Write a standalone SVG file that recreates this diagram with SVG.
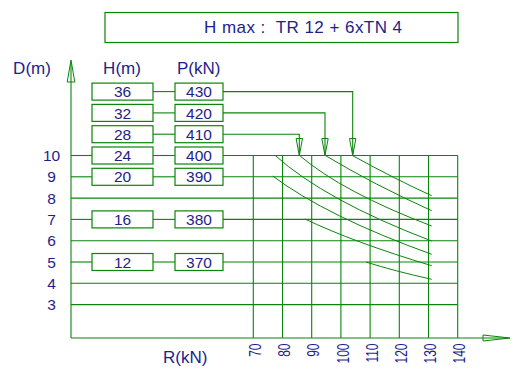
<svg xmlns="http://www.w3.org/2000/svg" width="517" height="371" viewBox="0 0 517 371">
<style>
.ln{stroke:#0a850a;stroke-width:1.1;fill:none}
.cv{stroke:#0a850a;stroke-width:1;fill:none}
.bx{stroke:#0a850a;stroke-width:1.2;fill:#fff}
.ah{stroke:#0a850a;stroke-width:1;fill:none}
.t{font-family:"Liberation Sans",Arial,sans-serif;fill:#1e1e8c}
.lb{font-size:17px}
.num{font-size:15.5px;text-anchor:middle}
.ax{font-size:16px;text-anchor:end}
</style>
<rect width="517" height="371" fill="#fff"/>

<g id="connectors">
  <!-- axes -->
  <line class="ln" x1="71" y1="62" x2="71" y2="338"/>
  <polygon class="ah" points="71,60 67.2,82 74.8,82"/>
  <line class="ln" x1="71" y1="338" x2="508" y2="338"/>
  <polygon class="ah" points="510,338 483,335 483,341"/>
  <!-- full horizontal grid lines -->
  <line class="ln" x1="71" y1="198.1" x2="457.7" y2="198.1"/>
  <line class="ln" x1="71" y1="240.7" x2="457.7" y2="240.7"/>
  <line class="ln" x1="71" y1="283.3" x2="457.7" y2="283.3"/>
  <line class="ln" x1="71" y1="304.6" x2="457.7" y2="304.6"/>
  <!-- rows with boxes -->
  <line class="ln" x1="71" y1="155.5" x2="92" y2="155.5"/>
  <line class="ln" x1="223" y1="155.5" x2="457.7" y2="155.5"/>
  <line class="ln" x1="71" y1="176.8" x2="92" y2="176.8"/>
  <line class="ln" x1="223" y1="176.8" x2="457.7" y2="176.8"/>
  <line class="ln" x1="71" y1="219.4" x2="92" y2="219.4"/>
  <line class="ln" x1="223" y1="219.4" x2="457.7" y2="219.4"/>
  <line class="ln" x1="71" y1="262" x2="92" y2="262"/>
  <line class="ln" x1="223" y1="262" x2="457.7" y2="262"/>
  <!-- box to box links -->
  <line class="ln" x1="153" y1="91.6" x2="175" y2="91.6"/>
  <line class="ln" x1="153" y1="112.9" x2="175" y2="112.9"/>
  <line class="ln" x1="153" y1="134.2" x2="175" y2="134.2"/>
  <line class="ln" x1="153" y1="155.5" x2="175" y2="155.5"/>
  <line class="ln" x1="153" y1="176.8" x2="175" y2="176.8"/>
  <line class="ln" x1="153" y1="219.4" x2="175" y2="219.4"/>
  <line class="ln" x1="153" y1="262" x2="175" y2="262"/>
  <!-- leader arrows -->
  <polyline class="ln" points="223,91.6 352.7,91.6 352.7,155"/>
  <polygon class="ah" points="352.7,155.5 349.5,138.5 355.9,138.5"/>
  <polyline class="ln" points="223,112.9 325,112.9 325,155"/>
  <polygon class="ah" points="325,155.5 321.8,138.5 328.2,138.5"/>
  <polyline class="ln" points="223,134.2 299.3,134.2 299.3,155"/>
  <polygon class="ah" points="299.3,155.5 296.1,138.5 302.5,138.5"/>
  <!-- vertical grid lines -->
  <line class="ln" x1="253.3" y1="155.5" x2="253.3" y2="338"/>
  <line class="ln" x1="282.5" y1="155.5" x2="282.5" y2="338"/>
  <line class="ln" x1="311.7" y1="155.5" x2="311.7" y2="338"/>
  <line class="ln" x1="340.9" y1="155.5" x2="340.9" y2="338"/>
  <line class="ln" x1="370.1" y1="155.5" x2="370.1" y2="338"/>
  <line class="ln" x1="399.3" y1="155.5" x2="399.3" y2="338"/>
  <line class="ln" x1="428.5" y1="155.5" x2="428.5" y2="338"/>
  <line class="ln" x1="457.7" y1="155.5" x2="457.7" y2="338"/>
  <!-- curves -->
  <path class="cv" d="M275,155.3 Q325.3,200.6 431.7,241"/>
  <path class="cv" d="M299.3,155.3 Q342.7,192.2 431.7,226"/>
  <path class="cv" d="M325,155.3 Q374.2,184.8 431.7,210.7"/>
  <path class="cv" d="M352,155.3 Q397.3,180.2 431.7,195.7"/>
  <path class="cv" d="M272.7,176 Q326.7,216.5 431.7,254.3"/>
  <path class="cv" d="M305,219 Q353.3,242.2 431.7,265.7"/>
  <path class="cv" d="M366,262 Q394,271 431.7,279.3"/>
</g>

<g id="title">
  <rect class="bx" x="105" y="12.5" width="353" height="30"/>
  <text class="t lb" x="204" y="33" xml:space="preserve" textLength="198" lengthAdjust="spacing">H max :  TR 12 + 6xTN 4</text>
</g>

<g id="axis-labels">
  <text class="t lb" x="32" y="74" text-anchor="middle">D(m)</text>
  <text class="t lb" x="122" y="74" text-anchor="middle">H(m)</text>
  <text class="t lb" x="198.7" y="74" text-anchor="middle">P(kN)</text>
  <text class="t lb" x="185.3" y="363" text-anchor="middle">R(kN)</text>
</g>

<g id="d-scale">
  <text class="t num" x="51.5" y="161">10</text>
  <text class="t num" x="51.5" y="182.3">9</text>
  <text class="t num" x="51.5" y="203.6">8</text>
  <text class="t num" x="51.5" y="224.9">7</text>
  <text class="t num" x="51.5" y="246.2">6</text>
  <text class="t num" x="51.5" y="267.5">5</text>
  <text class="t num" x="51.5" y="288.8">4</text>
  <text class="t num" x="51.5" y="310.1">3</text>
</g>

<g id="r-scale">
  <text class="t ax" transform="translate(261,343.5) rotate(-90) scale(0.75,1)">70</text>
  <text class="t ax" transform="translate(290.2,343.5) rotate(-90) scale(0.75,1)">80</text>
  <text class="t ax" transform="translate(319.4,343.5) rotate(-90) scale(0.75,1)">90</text>
  <text class="t ax" transform="translate(348.6,343.5) rotate(-90) scale(0.75,1)">100</text>
  <text class="t ax" transform="translate(377.8,343.5) rotate(-90) scale(0.75,1)">110</text>
  <text class="t ax" transform="translate(407,343.5) rotate(-90) scale(0.75,1)">120</text>
  <text class="t ax" transform="translate(436.2,343.5) rotate(-90) scale(0.75,1)">130</text>
  <text class="t ax" transform="translate(465.4,343.5) rotate(-90) scale(0.75,1)">140</text>
</g>

<g id="h36"><rect class="bx" x="92" y="83.1" width="61" height="17"/><text class="t num" x="122.5" y="97.2">36</text></g>
<g id="h32"><rect class="bx" x="92" y="104.4" width="61" height="17"/><text class="t num" x="122.5" y="118.5">32</text></g>
<g id="h28"><rect class="bx" x="92" y="125.7" width="61" height="17"/><text class="t num" x="122.5" y="139.8">28</text></g>
<g id="h24"><rect class="bx" x="92" y="147" width="61" height="17"/><text class="t num" x="122.5" y="161.1">24</text></g>
<g id="h20"><rect class="bx" x="92" y="168.3" width="61" height="17"/><text class="t num" x="122.5" y="182.4">20</text></g>
<g id="h16"><rect class="bx" x="92" y="210.9" width="61" height="17"/><text class="t num" x="122.5" y="225">16</text></g>
<g id="h12"><rect class="bx" x="92" y="253.5" width="61" height="17"/><text class="t num" x="122.5" y="267.6">12</text></g>

<g id="p430"><rect class="bx" x="175" y="83.1" width="48" height="17"/><text class="t num" x="199" y="97.2">430</text></g>
<g id="p420"><rect class="bx" x="175" y="104.4" width="48" height="17"/><text class="t num" x="199" y="118.5">420</text></g>
<g id="p410"><rect class="bx" x="175" y="125.7" width="48" height="17"/><text class="t num" x="199" y="139.8">410</text></g>
<g id="p400"><rect class="bx" x="175" y="147" width="48" height="17"/><text class="t num" x="199" y="161.1">400</text></g>
<g id="p390"><rect class="bx" x="175" y="168.3" width="48" height="17"/><text class="t num" x="199" y="182.4">390</text></g>
<g id="p380"><rect class="bx" x="175" y="210.9" width="48" height="17"/><text class="t num" x="199" y="225">380</text></g>
<g id="p370"><rect class="bx" x="175" y="253.5" width="48" height="17"/><text class="t num" x="199" y="267.6">370</text></g>
</svg>
